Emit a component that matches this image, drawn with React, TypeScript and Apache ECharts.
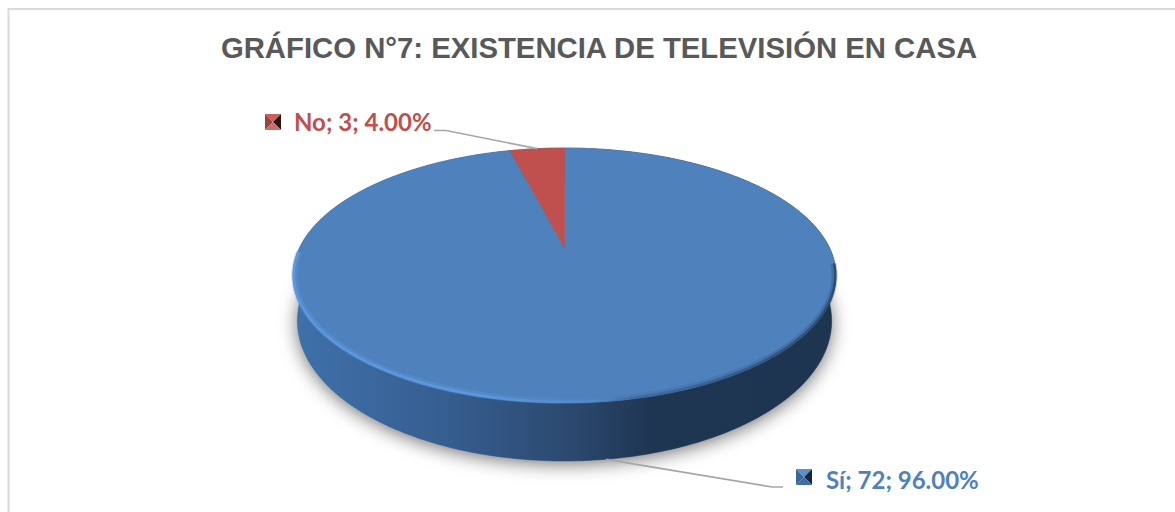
import React, { useEffect, useRef } from "react";
import * as echarts from "echarts";

const chartTitle = "GRÁFICO N°7: EXISTENCIA DE TELEVISIÓN EN CASA";
const categories = ["Sí", "No"];
const counts = [72, 3];

// Per-slice appearance and label placement.
const sliceColors = ["#4f81bd", "#c0504d"];
const labelBoxes = [
  { keyX: 796, keyY: 469, textX: 826, textY: 479.5, bendX: 772, bendY: 487, endX: 783, onBase: true },
  { keyX: 265, keyY: 114, textX: 294, textY: 121.5, bendX: 446, bendY: 130.5, endX: 434, onBase: false },
];
const keyFaces = [
  { top: "#5f8fca", left: "#3c6698", right: "#16283f", bottom: "#3f6da6" },
  { top: "#c9605c", left: "#9a4340", right: "#2e1413", bottom: "#c96e6a" },
];

// Tilted disc: the circle is put through a perspective projection so that
// the hub sits above the centre of the drawn ellipse.
const HUB_X = 564.5;
const HUB_Y = 248;
const RADIUS_X = 265.1;
const RADIUS_Y = 121.57;
const TILT = -0.2157;
const TOP_MID_Y = 275.5;
// The lower rim is seen at a steeper angle, so it is narrower and rounder.
const BASE_MID_Y = 321;
const BASE_STRETCH_Y = 1.098;
const BASE_SCALE_X = 0.984;

const total = counts.reduce((sum, v) => sum + v, 0);

type Pt = [number, number];

function topPoint(turn: number): Pt {
  const a = turn * Math.PI * 2;
  const u = Math.sin(a);
  const v = -Math.cos(a);
  const w = 1 + TILT * v;
  return [HUB_X + (RADIUS_X * u) / w, HUB_Y + (RADIUS_Y * v) / w];
}

function basePoint(turn: number): Pt {
  const [x, y] = topPoint(turn);
  return [HUB_X + (x - HUB_X) * BASE_SCALE_X, BASE_MID_Y + (y - TOP_MID_Y) * BASE_STRETCH_Y];
}

function sliceTurns(index: number): [number, number] {
  const before = counts.slice(0, index).reduce((sum, v) => sum + v, 0);
  return [before / total, (before + counts[index]) / total];
}

function arcPoints(from: number, to: number, fn: (t: number) => Pt): Pt[] {
  const steps = Math.max(4, Math.ceil((to - from) * 360));
  const pts: Pt[] = [];
  for (let i = 0; i <= steps; i++) pts.push(fn(from + ((to - from) * i) / steps));
  return pts;
}

const wallFill = new echarts.graphic.LinearGradient(
  297, 0, 832, 0,
  [
    { offset: 0, color: "#3f70aa" },
    { offset: 0.28, color: "#365e90" },
    { offset: 0.5, color: "#2c4a71" },
    { offset: 0.66, color: "#1f3653" },
    { offset: 1, color: "#1e3552" },
  ],
  true
);

const rimLight = new echarts.graphic.LinearGradient(
  293, 0, 836, 0,
  [
    { offset: 0, color: "#5c9ae0" },
    { offset: 0.35, color: "#5c9ae0" },
    { offset: 0.56, color: "rgba(92,154,224,0.2)" },
    { offset: 0.62, color: "rgba(40,70,110,0.3)" },
    { offset: 1, color: "rgba(30,54,84,0.7)" },
  ],
  true
);

function renderWall(params: any) {
  const [from, to] = sliceTurns(params.dataIndex);
  const top = arcPoints(from, to, topPoint);
  const base = arcPoints(from, to, basePoint);
  const wedge: Pt[] = [[HUB_X, BASE_MID_Y], ...base];
  return {
    type: "group",
    children: [
      {
        type: "polygon",
        shape: { points: wedge },
        style: {
          fill: "#8a8a8a",
          shadowBlur: 18,
          shadowColor: "rgba(0,0,0,0.55)",
          shadowOffsetY: 3,
        },
      },
      {
        type: "polygon",
        shape: { points: [...top, ...base.slice().reverse()] },
        style: { fill: wallFill, stroke: wallFill, lineWidth: 0.5 },
      },
    ],
  };
}

function renderTop(params: any) {
  const i = params.dataIndex;
  const [from, to] = sliceTurns(i);
  const edge = arcPoints(from, to, topPoint);
  const children: any[] = [
    {
      type: "polygon",
      shape: { points: [[HUB_X, HUB_Y], ...edge] },
      style: { fill: sliceColors[i], stroke: sliceColors[i], lineWidth: 0.5 },
    },
  ];
  // Bevel along the front edge of the disc: a wide faint band under a narrow bright one.
  const frontFrom = Math.max(from, 0.27);
  const frontTo = Math.min(to, 0.745);
  if (frontTo > frontFrom) {
    const bevelAt = (inset: number) =>
      arcPoints(frontFrom, frontTo, (t) => {
        const [x, y] = topPoint(t);
        return [HUB_X + (x - HUB_X) * (1 - inset), HUB_Y + (y - HUB_Y) * (1 - inset * 2.6)] as Pt;
      });
    children.push(
      {
        type: "polyline",
        shape: { points: bevelAt(0.005) },
        style: { fill: "none", stroke: rimLight, lineWidth: 6, opacity: 0.35 },
      },
      {
        type: "polyline",
        shape: { points: bevelAt(0.003) },
        style: { fill: "none", stroke: rimLight, lineWidth: 2.5, opacity: 0.85 },
      }
    );
  }
  return { type: "group", children };
}

function renderLabel(params: any) {
  const i = params.dataIndex;
  const value = counts[i];
  const box = labelBoxes[i];
  const [from, to] = sliceTurns(i);
  const mid = (from + to) / 2;
  const anchor = box.onBase ? basePoint(mid) : topPoint(mid);
  const k = 16;
  const cx = box.keyX + k / 2;
  const cy = box.keyY + k / 2;
  const corners: Pt[] = [
    [box.keyX, box.keyY],
    [box.keyX + k, box.keyY],
    [box.keyX + k, box.keyY + k],
    [box.keyX, box.keyY + k],
  ];
  const faces = keyFaces[i];
  const face = (a: Pt, b: Pt, fill: string) => ({
    type: "polygon",
    shape: { points: [a, b, [cx, cy]] },
    style: { fill },
  });
  return {
    type: "group",
    children: [
      {
        type: "polyline",
        shape: { points: [anchor, [box.bendX, box.bendY], [box.endX, box.bendY]] },
        style: { fill: "none", stroke: "#a6a6a6", lineWidth: 1.7 },
      },
      face(corners[0], corners[1], faces.top),
      face(corners[3], corners[0], faces.left),
      face(corners[1], corners[2], faces.right),
      face(corners[2], corners[3], faces.bottom),
      {
        type: "text",
        style: {
          text: `${categories[i]}; ${value}; ${((value / total) * 100).toFixed(2)}%`,
          x: box.textX,
          y: box.textY,
          fill: sliceColors[i],
          font: "bold 24px Lato",
          textAlign: "left",
          textVerticalAlign: "middle",
        },
      },
    ],
  };
}

export default function App() {
  const ref = useRef<HTMLDivElement>(null);

  useEffect(() => {
    document.body.style.margin = "0";
    const chart = echarts.init(ref.current!, undefined, { renderer: "svg" });
    chart.setOption({
      animation: false,
      backgroundColor: "#ffffff",
      title: {
        text: chartTitle,
        left: 594,
        top: 28,
        textAlign: "center",
        textStyle: {
          color: "#595959",
          fontFamily: "Liberation Sans",
          fontWeight: "bold",
          fontSize: 29.3,
        },
      },
      graphic: [
        {
          type: "rect",
          shape: { x: 8.5, y: 9, width: 1300, height: 700 },
          style: { fill: "none", stroke: "#d9d9d9", lineWidth: 2 },
          silent: true,
        },
      ],
      series: [
        { type: "custom", coordinateSystem: "none", name: "Lateral", z: 1, silent: true, data: counts, renderItem: renderWall },
        { type: "custom", coordinateSystem: "none", name: "Televisión", z: 2, silent: true, data: counts, renderItem: renderTop },
        { type: "custom", coordinateSystem: "none", name: "Etiquetas", z: 3, silent: true, data: counts, renderItem: renderLabel },
      ],
    });
    return () => chart.dispose();
  }, []);

  return <div ref={ref} style={{ position: "absolute", left: 0, top: 0, width: 1175, height: 512 }} />;
}
